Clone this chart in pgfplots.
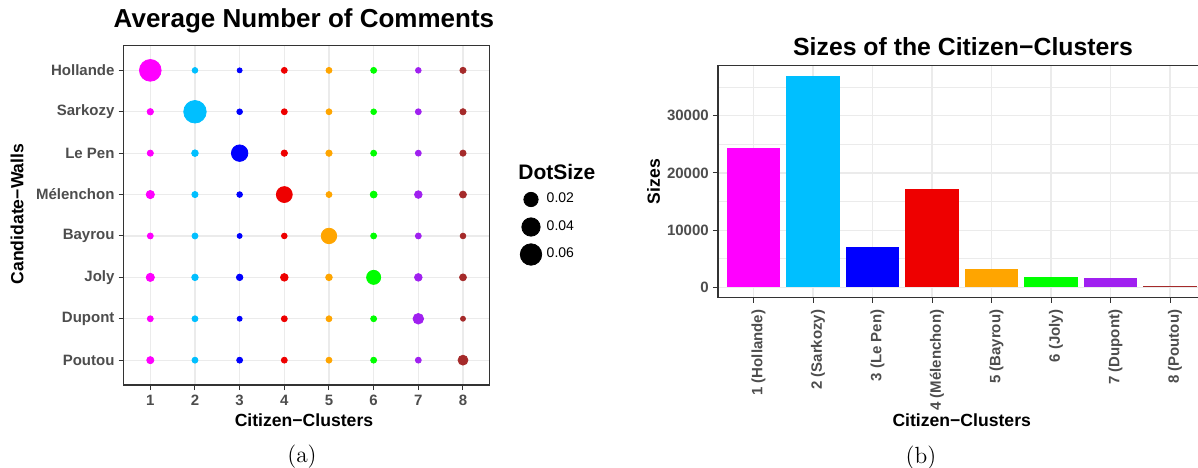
\documentclass[border=0pt]{standalone}
\usepackage{fontspec}
\usepackage{pgfplots}
\usepackage{pgfplotstable}
\pgfplotsset{compat=1.18}
\newfontfamily\lsans{Liberation Sans}

\definecolor{cHol}{RGB}{255,0,255}
\definecolor{cSar}{RGB}{0,191,255}
\definecolor{cLeP}{RGB}{0,0,255}
\definecolor{cMel}{RGB}{238,0,0}
\definecolor{cBay}{RGB}{255,165,0}
\definecolor{cJol}{RGB}{0,255,0}
\definecolor{cDup}{RGB}{160,32,240}
\definecolor{cPou}{RGB}{165,42,42}
\definecolor{grid92}{RGB}{235,235,235}
\definecolor{grey20}{RGB}{51,51,51}
\definecolor{grey30}{RGB}{77,77,77}

% average number of comments; wall 1 = Poutou ... 8 = Hollande, c1..c8 = citizen clusters
\pgfplotstableread{
wall c1     c2     c3     c4     c5     c6     c7     c8
8    0.062  0.0011 0.0010 0.0012 0.0012 0.0012 0.0011 0.0013
7    0.0014 0.068  0.0011 0.0012 0.0012 0.0011 0.0012 0.0013
6    0.0013 0.0016 0.030  0.0014 0.0014 0.0012 0.0012 0.0013
5    0.0033 0.0013 0.0011 0.027  0.0012 0.0018 0.0025 0.0018
4    0.0012 0.0012 0.0010 0.0011 0.025  0.0012 0.0012 0.0011
3    0.0033 0.0015 0.0015 0.0025 0.0016 0.019  0.0025 0.0018
2    0.0012 0.0012 0.0010 0.0012 0.0012 0.0012 0.0079 0.0010
1    0.0020 0.0012 0.0012 0.0012 0.0012 0.0012 0.0012 0.0063
}\dotdata

\pgfplotsset{
  gg/.style={
    scale only axis,
    axis line style={grey20, line width=0.7pt},
    tick style={grey20, line width=0.5pt},
    major tick length=2.5pt,
    tick align=outside,
    tick pos=left,
    grid=major,
    major grid style={grid92, line width=0.6pt},
    minor grid style={grid92, line width=0.3pt},
    tick label style={font=\lsans\bfseries\fontsize{7.5}{9}\selectfont, text=grey30},
    yticklabel style={xshift=1.5pt},
    label style={font=\lsans\bfseries\fontsize{8.8}{10}\selectfont},
    every axis title shift=0pt,
    /pgf/number format/assume math mode=true,
  },
  dots/.style n args={2}{
    scatter, only marks, mark=*, forget plot,
    scatter/use mapped color={draw=#2, fill=#2},
    visualization depends on={1.25+4.375*sqrt(max(0,(\thisrow{#1}-0.001)/0.067)) \as \rad},
    scatter/@pre marker code/.append style={/tikz/mark size=\rad},
  },
}

\begin{document}
\begin{tikzpicture}
\path[use as bounding box] (0,0) rectangle (599pt,233.5pt);

\begin{axis}[gg,
  at={(61.75pt,41pt)}, anchor=south west,
  width=183.15pt, height=169.75pt,
  xmin=0.4, xmax=8.6, ymin=0.4, ymax=8.6,
  xtick={1,...,8}, ytick={1,...,8},
  xticklabel style={yshift=0.8pt},
  yticklabels={Poutou,Dupont,Joly,Bayrou,Mélenchon,Le Pen,Sarkozy,Hollande},
  title={Average Number of Comments},
  title style={at={(axis description cs:0.4927,1.0722)}, anchor=center,
    font=\lsans\bfseries\fontsize{13}{15}\selectfont},
  xlabel={Citizen−Clusters},
  xlabel style={at={(axis description cs:0.4927,-0.1031)}, anchor=center},
  ylabel={Candidate−Walls},
  ylabel style={at={(axis description cs:-0.2908,0.5037)}, anchor=center},
  legend cell align=left,
  legend style={at={(axis description cs:1.0822,0.4654)}, anchor=west,
    draw=none, fill=none, inner sep=0pt, row sep=2.75pt, column sep=1.5pt,
    font=\lsans\fontsize{7}{8}\selectfont,
    nodes={inner sep=1pt, text=black}},
  legend image code/.code={\path[draw=none, fill=none] (0pt,-5.5pt) -- (0pt,5.5pt);
    \draw[#1] plot coordinates {(0pt,0pt)};},
]
\addplot[dots={c1}{cHol}] table[x expr=1, y=wall] {\dotdata};
\addplot[dots={c2}{cSar}] table[x expr=2, y=wall] {\dotdata};
\addplot[dots={c3}{cLeP}] table[x expr=3, y=wall] {\dotdata};
\addplot[dots={c4}{cMel}] table[x expr=4, y=wall] {\dotdata};
\addplot[dots={c5}{cBay}] table[x expr=5, y=wall] {\dotdata};
\addplot[dots={c6}{cJol}] table[x expr=6, y=wall] {\dotdata};
\addplot[dots={c7}{cDup}] table[x expr=7, y=wall] {\dotdata};
\addplot[dots={c8}{cPou}] table[x expr=8, y=wall] {\dotdata};
\addlegendimage{mark=*, black, mark size={1.25+4.375*sqrt((0.02-0.001)/0.067)}}
\addlegendentry{0.02}
\addlegendimage{mark=*, black, mark size={1.25+4.375*sqrt((0.04-0.001)/0.067)}}
\addlegendentry{0.04}
\addlegendimage{mark=*, black, mark size={1.25+4.375*sqrt((0.06-0.001)/0.067)}}
\addlegendentry{0.06}
\end{axis}
\node[anchor=west, inner sep=0pt, font=\lsans\bfseries\fontsize{10.5}{12}\selectfont]
  at (259pt,147.5pt) {DotSize};

\begin{axis}[gg,
  at={(358.9pt,84.65pt)}, anchor=south west,
  width=244pt, height=116pt,
  xmin=0.4, xmax=8.6, ymin=-1800, ymax=38750,
  ybar, bar width=0.9,
  xtick={1,...,8},
  xticklabels={1 (Hollande),2 (Sarkozy),3 (Le Pen),4 (Mélenchon),5 (Bayrou),6 (Joly),7 (Dupont),8 (Poutou)},
  xticklabel style={rotate=90, anchor=east, yshift=-2.5pt},
  ytick={0,10000,20000,30000}, yticklabels={0,10000,20000,30000},
  scaled y ticks=false,
  minor ytick={5000,15000,25000,35000}, yminorgrids, minor tick length=0pt,
  title={Sizes of the Citizen−Clusters},
  title style={at={(axis description cs:0.5025,1.081)}, anchor=center,
    font=\lsans\bfseries\fontsize{12.4}{14}\selectfont},
  xlabel={Citizen−Clusters},
  xlabel style={at={(axis description cs:0.4998,-0.530)}, anchor=center},
  ylabel={Sizes},
  ylabel style={at={(axis description cs:-0.1318,0.5)}, anchor=center},
]
\addplot[fill=cHol, draw=none, bar shift=0pt] coordinates {(1,24360)};
\addplot[fill=cSar, draw=none, bar shift=0pt] coordinates {(2,36920)};
\addplot[fill=cLeP, draw=none, bar shift=0pt] coordinates {(3,7090)};
\addplot[fill=cMel, draw=none, bar shift=0pt] coordinates {(4,17210)};
\addplot[fill=cBay, draw=none, bar shift=0pt] coordinates {(5,3260)};
\addplot[fill=cJol, draw=none, bar shift=0pt] coordinates {(6,1860)};
\addplot[fill=cDup, draw=none, bar shift=0pt] coordinates {(7,1690)};
\addplot[fill=cPou, draw=none, bar shift=0pt] coordinates {(8,290)};
\end{axis}

\node[font=\fontsize{11.7}{14}\selectfont] at (151pt,5.2pt) {(a)};
\node[font=\fontsize{11.7}{14}\selectfont] at (460.5pt,4.5pt) {(b)};
\end{tikzpicture}
\end{document}
